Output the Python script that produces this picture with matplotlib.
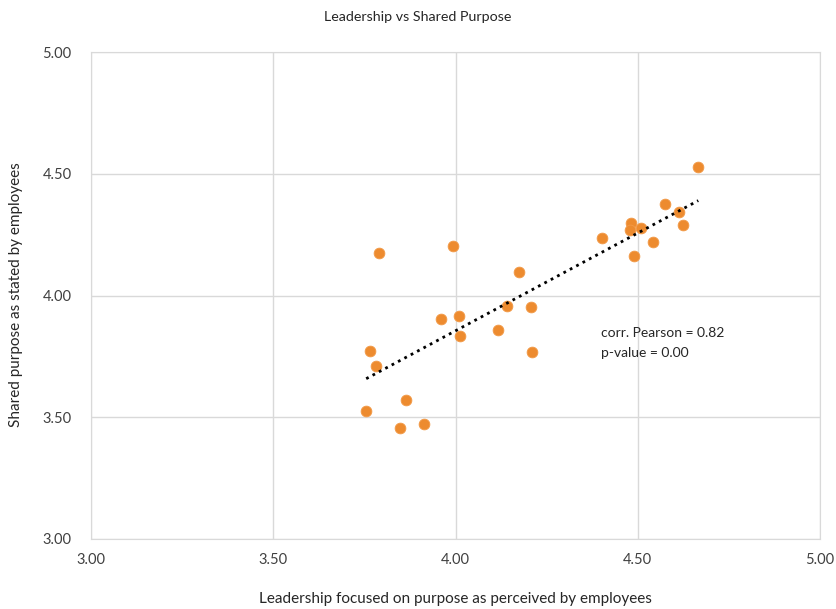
import numpy as np
import matplotlib.pyplot as plt

plt.rcParams['font.family'] = ['Lato', 'DejaVu Sans']

# valeurs
leadership = [3.790, 3.994, 4.174, 4.140, 4.208, 3.959, 4.010, 4.117, 4.013,
              4.209, 3.766, 3.783, 3.863, 3.755, 3.848, 3.914,
              4.666, 4.574, 4.613, 4.623, 4.481, 4.478, 4.509, 4.401, 4.543, 4.489]
shared = [4.176, 4.203, 4.095, 3.957, 3.952, 3.905, 3.917, 3.858, 3.835,
          3.768, 3.773, 3.710, 3.572, 3.526, 3.457, 3.474,
          4.526, 4.377, 4.343, 4.291, 4.298, 4.269, 4.279, 4.237, 4.221, 4.162]
ticks = [3.00, 3.50, 4.00, 4.50, 5.00]

x = np.array(leadership)
y = np.array(shared)

fig = plt.figure(figsize=(8.36, 6.09), dpi=100)
ax = fig.add_axes([91/836, 1-539/609, 729/836, 487/609])

ax.scatter(x, y, s=60, color='#ED8B2F', edgecolors='#F29A48', linewidths=0.6, zorder=3)

# droite de tendance
a, b = np.polyfit(x, y, 1)
xt = np.array([x.min(), x.max()])
ax.plot(xt, a*xt + b, color='black', linestyle=(0, (1, 1.6)), linewidth=2, zorder=4)

ax.set_xlim(3, 5)
ax.set_ylim(3, 5)
ax.set_xticks(ticks)
ax.set_yticks(ticks)
ax.set_xticklabels(["%.2f" % t for t in ticks])
ax.set_yticklabels(["%.2f" % t for t in ticks])
ax.tick_params(length=0, labelsize=10.5, colors='#404040')
ax.tick_params(axis='x', pad=10)
ax.tick_params(axis='y', pad=14)
ax.grid(color='#D9D9D9', linewidth=1)
ax.set_axisbelow(True)
for s in ax.spines.values():
    s.set_color('#D9D9D9')

ax.text(4.399, 3.846, "corr. Pearson = 0.82", fontsize=10, color='#262626', va='center')
ax.text(4.399, 3.764, "p-value = 0.00", fontsize=10, color='#262626', va='center')

fig.text(0.5, 1-17/609, "Leadership vs Shared Purpose", ha='center', va='center',
         fontsize=10.3, color='#262626')
fig.text(455/836, 1-599/609, "Leadership focused on purpose as perceived by employees",
         ha='center', va='center', fontsize=11, color='#262626')
fig.text(16/836, 1-295/609, "Shared purpose as stated by employees", rotation=90,
         ha='center', va='center', fontsize=11, color='#262626')

fig.savefig("out.png", dpi=100)
